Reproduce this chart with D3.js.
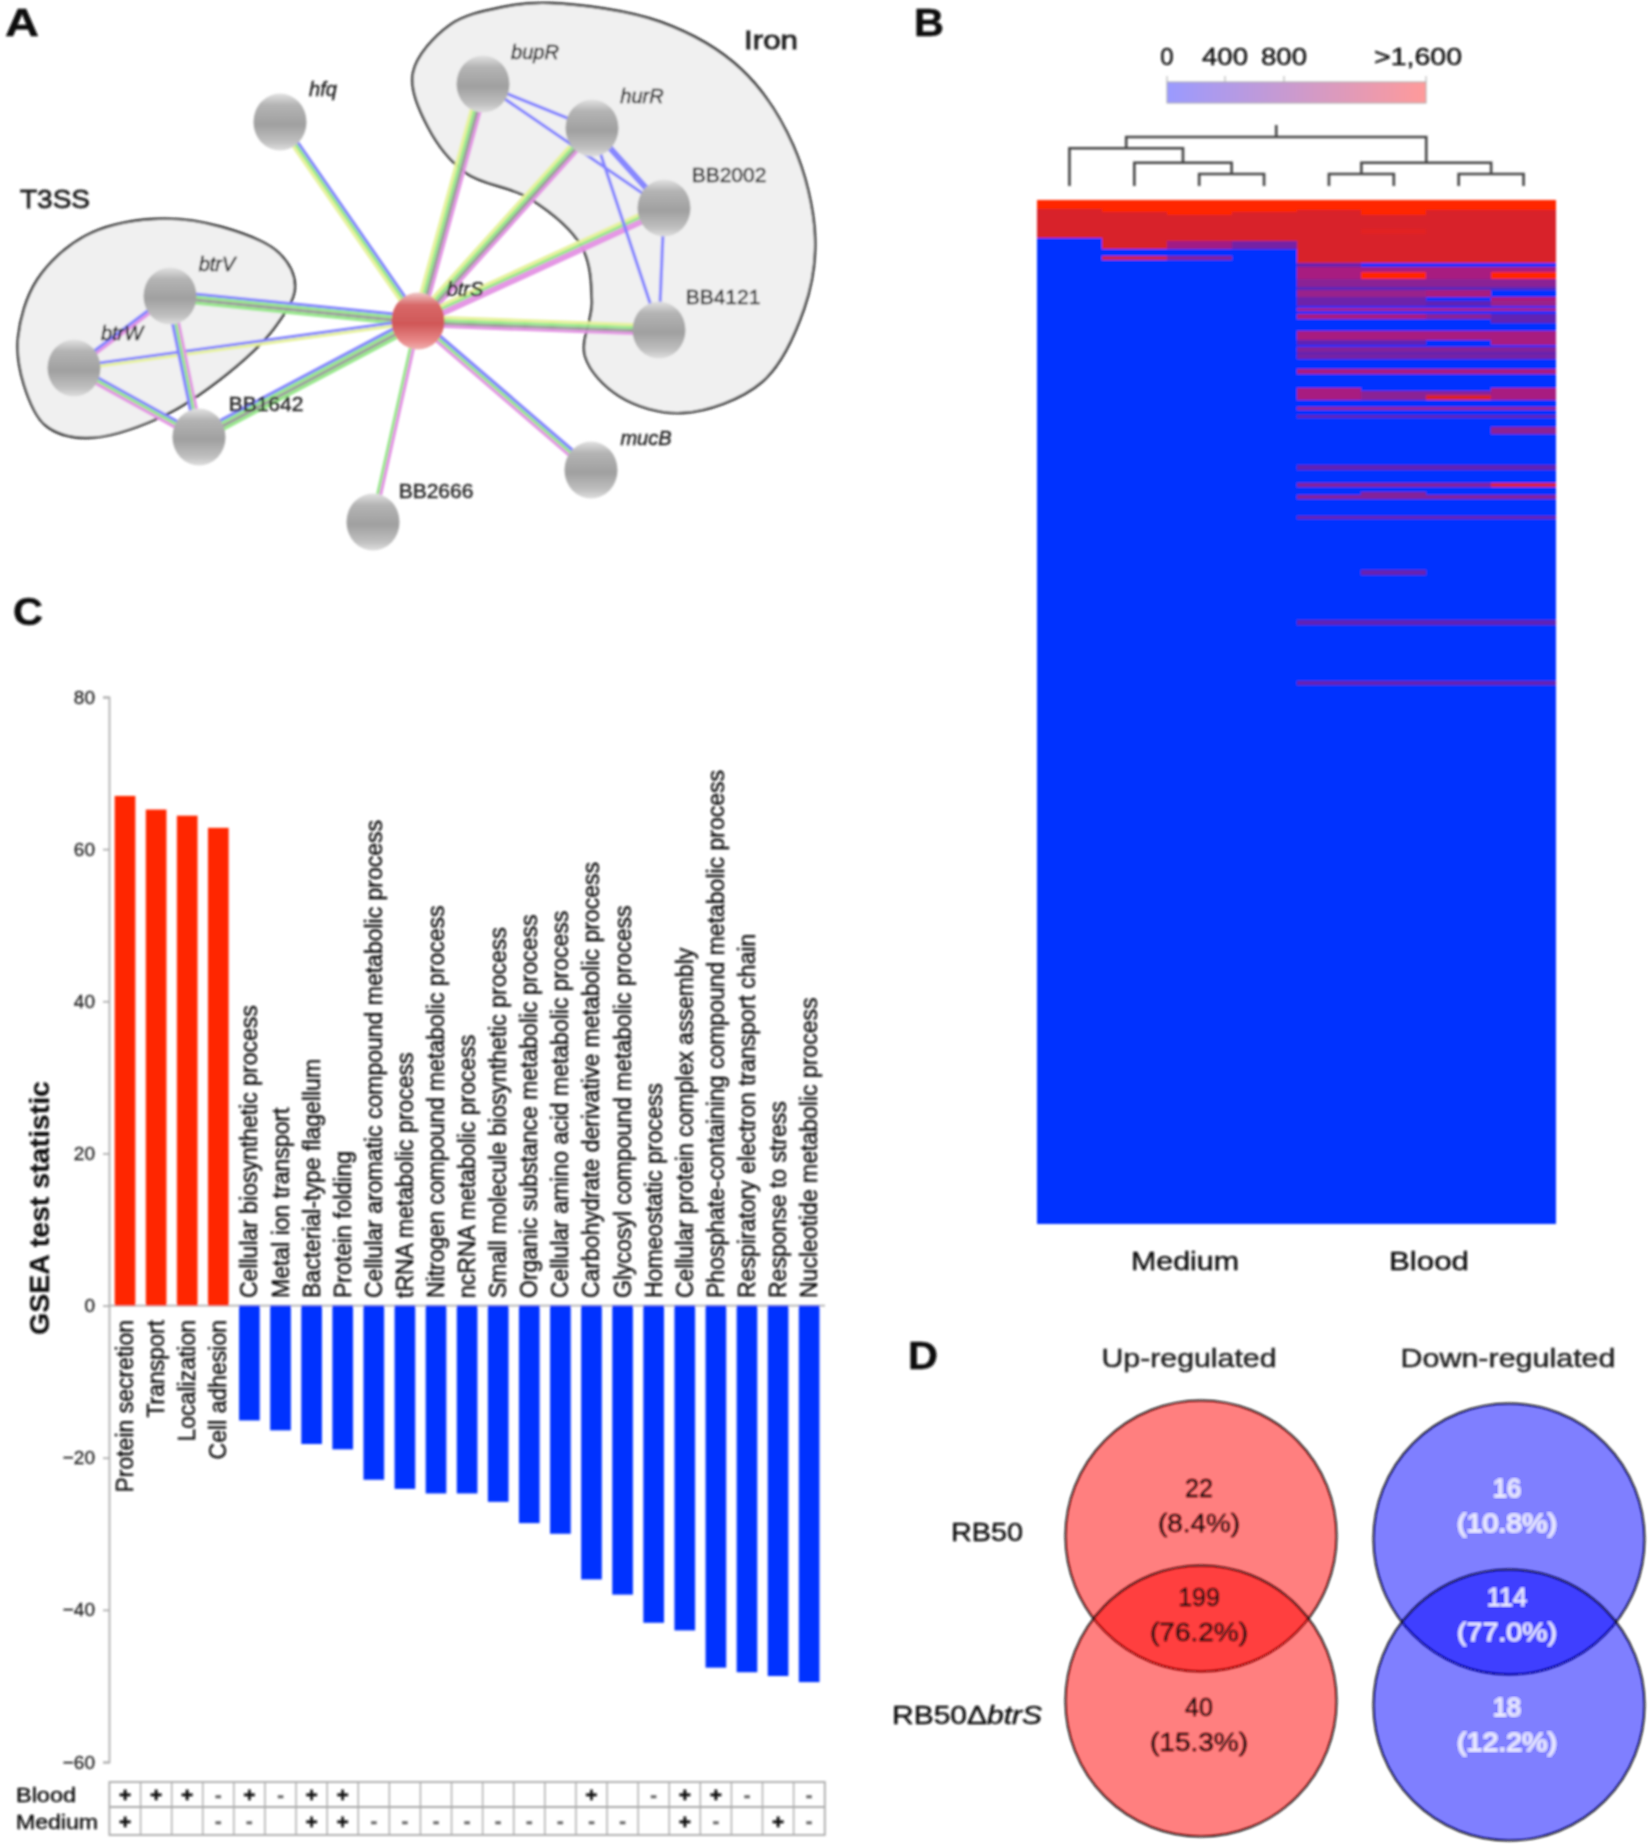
<!DOCTYPE html>
<html><head><meta charset="utf-8">
<script src="https://cdn.jsdelivr.net/npm/d3@7/dist/d3.min.js"></script>
<style>html,body{margin:0;background:#fff}svg{display:block;font-family:"Liberation Sans",Arial,sans-serif}</style>
</head><body><svg id="c" width="1650" height="1844"></svg>
<script>
// ---------- Panel C data
const categories = ["Protein secretion","Transport","Localization","Cell adhesion","Cellular biosynthetic process","Metal ion transport","Bacterial-type flagellum","Protein folding","Cellular aromatic compound metabolic process","tRNA metabolic process","Nitrogen compound metabolic process","ncRNA metabolic process","Small molecule biosynthetic process","Organic substance metabolic process","Cellular amino acid metabolic process","Carbohydrate derivative metabolic process","Glycosyl compound metabolic process","Homeostatic process","Cellular protein complex assembly","Phosphate-containing compound metabolic process","Respiratory electron transport chain","Response to stress","Nucleotide metabolic process"];
const gseaValues = [67,65.2,64.4,62.8,-15.1,-16.4,-18.2,-18.9,-22.9,-24.1,-24.7,-24.7,-25.8,-28.6,-30,-36,-38,-41.7,-42.7,-47.6,-48.2,-48.7,-49.5];
const gseaTicks = [-60,-40,-20,0,20,40,60,80];
const bloodMarks  = ["+","+","+","-","+","-","+","+","","","","","","","","+","","-","+","+","-","","-"];
const mediumMarks = ["+","","","-","-","","+","+","-","-","-","-","-","-","-","-","-","","+","-","","+","-"];
// ---------- Panel B data
const heatColumns = ["M1","M2","M3","M4","B1","B2","B3","B4"];
const heatGroups = ["Medium","Blood"];
const heatLegendTicks = [0,400,800,1600];
const heatLegendLabels = ["0","400","800",">1,600"];
const heatBreaks = [0,5,6,7,9,17,20,22,24,29,33,35,37,39,42,46,51,53,57,59,62,63,65,67,70,72,77,82,85,86,89,90,93,99,102,110,112,114,117,121,123,126,128,133,137,155,158,166,168,171,173,175,185,187,217,220,246,249,282,284,600];
const heatRows = [
[1600,1600,1600,1600,1600,1600,1600,1600],
[1400,1600,1600,1600,1600,1600,1600,1600],
[1400,1600,1600,1600,1400,1600,1400,1400],
[1400,1400,1600,1400,1400,1600,1400,1400],
[1400,1400,1400,1400,1400,1400,1400,1400],
[1400,1400,1400,1400,1400,1450,1400,1400],
[1400,1400,1400,1400,1400,1400,1400,1400],
[0,1400,1400,1400,1400,1400,1400,1400],
[0,1400,950,650,1400,1400,1400,1400],
[0,0,0,0,1400,1400,1400,1400],
[0,1300,750,0,1400,1400,1400,1400],
[0,0,0,0,1400,1400,1400,1400],
[0,0,0,0,550,0,0,0],
[0,0,0,0,1000,1000,1000,1000],
[0,0,0,0,1000,1600,1000,1600],
[0,0,0,0,800,800,800,800],
[0,0,0,0,450,450,450,450],
[0,0,0,0,900,900,1000,0],
[0,0,0,0,600,600,0,1000],
[0,0,0,0,600,600,500,900],
[0,0,0,0,0,0,0,0],
[0,0,0,0,1000,1000,1000,1000],
[0,0,0,0,0,0,0,0],
[0,0,0,0,1000,1000,800,500],
[0,0,0,0,0,0,0,500],
[0,0,0,0,0,0,0,0],
[0,0,0,0,1000,1000,1000,1000],
[0,0,0,0,500,500,0,1000],
[0,0,0,0,0,0,0,0],
[0,0,0,0,750,750,750,750],
[0,0,0,0,500,500,500,500],
[0,0,0,0,650,650,650,650],
[0,0,0,0,0,0,0,0],
[0,0,0,0,1000,1000,1000,1000],
[0,0,0,0,0,0,0,0],
[0,0,0,0,1000,0,0,1000],
[0,0,0,0,1000,800,800,1000],
[0,0,0,0,1000,800,1400,1000],
[0,0,0,0,0,0,0,0],
[0,0,0,0,900,900,900,900],
[0,0,0,0,0,0,0,0],
[0,0,0,0,500,500,500,500],
[0,0,0,0,0,0,0,0],
[0,0,0,0,0,0,0,800],
[0,0,0,0,0,0,0,0],
[0,0,0,0,500,500,500,500],
[0,0,0,0,0,0,0,0],
[0,0,0,0,750,750,750,1400],
[0,0,0,0,0,0,0,0],
[0,0,0,0,0,750,0,0],
[0,0,0,0,750,750,750,750],
[0,0,0,0,0,0,0,0],
[0,0,0,0,550,550,550,550],
[0,0,0,0,0,0,0,0],
[0,0,0,0,0,550,0,0],
[0,0,0,0,0,0,0,0],
[0,0,0,0,500,500,500,500],
[0,0,0,0,0,0,0,0],
[0,0,0,0,550,550,550,550],
[0,0,0,0,0,0,0,0]];
// dendrogram merge heights (arbitrary units)
const dendro = {h:10,c:[{h:8.9,c:[{leaf:0},{h:7.5,c:[{leaf:1},{h:6.4,c:[{leaf:2},{leaf:3}]}]}]},{h:7.5,c:[{h:6.4,c:[{leaf:4},{leaf:5}]},{h:6.4,c:[{leaf:6},{leaf:7}]}]}]};
// ---------- Panel D data
const vennTitles = ["Up-regulated","Down-regulated"];
const vennStrains = ["RB50","RB50\u0394"];
const vennCounts = [[22,199,40],[16,114,18]];
const vennPercents = [["(8.4%)","(76.2%)","(15.3%)"],["(10.8%)","(77.0%)","(12.2%)"]];
// ---------- Panel A data
const netNames = ["hfq","bupR","hurR","BB2002","BB4121","btrS","btrV","btrW","BB1642","BB2666","mucB"];
const netItalic = [1,1,1,0,0,1,1,1,0,0,1];
const netEdges = [
 ["hfq","btrS","bgy"],["bupR","btrS","pkgy"],["hurR","btrS","pkgy"],["BB2002","btrS","ppgy"],["BB4121","btrS","pkgy"],
 ["btrV","btrS","bgkg"],["btrW","btrS","by"],["BB1642","btrS","bgkg"],["BB2666","btrS","gp"],["mucB","btrS","pgb"],
 ["bupR","hurR","b"],["bupR","BB2002","b"],["hurR","BB2002","bb"],["hurR","BB4121","b"],["BB2002","BB4121","b"],
 ["btrV","btrW","pb"],["btrV","BB1642","pgb"],["btrW","BB1642","bgp"]];
const edgeColors = {b:"#8484ff",g:"#98e88c",y:"#e6f29c",p:"#e494e4",k:"#9c9c9c"};

const svg = d3.select("#c");
const defs = svg.append("defs");
defs.append("filter").attr("id","soft").attr("filterUnits","userSpaceOnUse")
  .attr("x",0).attr("y",0).attr("width",1650).attr("height",1844)
  .append("feGaussianBlur").attr("stdDeviation",1.2);
const root = svg.append("g").attr("filter","url(#soft)");
const font = "'Liberation Sans',Arial,sans-serif";
function txt(g,x,y,s,size,o={}){
  const f=o.fill||"#111";
  const t=g.append("text").attr("x",x).attr("y",y).attr("font-size",size)
   .attr("text-anchor",o.anchor||"middle").attr("dominant-baseline","central")
   .attr("fill",f).attr("stroke",f).attr("stroke-width",o.sw===undefined?.45:o.sw)
   .attr("font-weight",o.weight||"normal").attr("font-style",o.style||"normal").text(s);
  if(o.w) t.attr("textLength",o.w).attr("lengthAdjust","spacingAndGlyphs");
  return t;
}
// panel letters
[["A",22,23],["B",929,23],["C",28,612],["D",923,1356]].forEach(d=>txt(root,d[1],d[2],d[0],38,{fill:"#111",weight:"bold",w:d[0]==="A"?34:30}));

// ====== Panel A
(function(){
 const g=root.append("g");
 const nx={hfq:280,bupR:483,hurR:592,BB2002:664,BB4121:659,btrS:418,btrV:170,btrW:74,BB1642:199,BB2666:373,mucB:591};
 const ny={hfq:122,bupR:84,hurR:128,BB2002:208,BB4121:330,btrS:321,btrV:296,btrW:368,BB1642:437,BB2666:522,mucB:470};
 const lx={hfq:323,bupR:535,hurR:642,BB2002:729,BB4121:723,btrS:465,btrV:217,btrW:122,BB1642:266,BB2666:436,mucB:646};
 const ly={hfq:89,bupR:52,hurR:96,BB2002:174,BB4121:296,btrS:289,btrV:264,btrW:333,BB1642:403,BB2666:490,mucB:438};
 const closed=d3.line().curve(d3.curveCatmullRomClosed.alpha(0.5));
 const iron=[[550,3],[661,22],[741,69],[793,145],[815,236],[804,309],[762,382],[682,413],[619,396],[585,356],[592,302],[582,247],[529,198],[466,173],[428,127],[413,73],[450,25],[503,7]];
 const t3ss=[[153,219],[222,227],[280,254],[295,287],[275,327],[227,374],[159,418],[85,438],[45,425],[24,385],[18,338],[37,280],[85,236]];
 [iron,t3ss].forEach(p=>g.append("path").attr("d",closed(p)).attr("fill","#f0f0f0").attr("stroke","#222").attr("stroke-width",2.4));
 netEdges.forEach(e=>{
  const [a,b,ch]=e; const dx=nx[b]-nx[a],dy=ny[b]-ny[a],L=Math.hypot(dx,dy),ux=-dy/L,uy=dx/L;
  const n=ch.length, s=3;
  ch.split("").forEach((c,i)=>{const o=(i-(n-1)/2)*s;
   g.append("line").attr("x1",nx[a]+ux*o).attr("y1",ny[a]+uy*o).attr("x2",nx[b]+ux*o).attr("y2",ny[b]+uy*o)
    .attr("stroke",edgeColors[c]).attr("stroke-width",3.2);});
 });
 const gg=defs.append("linearGradient").attr("id","gray").attr("x1",0).attr("y1",0).attr("x2",0).attr("y2",1);
 [[0,"#e2e2e2"],[.2,"#b4b4b4"],[.55,"#a0a0a0"],[.85,"#c0c0c0"],[1,"#dedede"]].forEach(s=>gg.append("stop").attr("offset",s[0]).attr("stop-color",s[1]));
 const gr=defs.append("linearGradient").attr("id","redn").attr("x1",0).attr("y1",0).attr("x2",0).attr("y2",1);
 [[0,"#f0c8c8"],[.22,"#d86868"],[.55,"#d05858"],[.85,"#e88888"],[1,"#f0b0b0"]].forEach(s=>gr.append("stop").attr("offset",s[0]).attr("stop-color",s[1]));
 netNames.forEach((n,i)=>{
  g.append("ellipse").attr("cx",nx[n]).attr("cy",ny[n]).attr("rx",26.5).attr("ry",28.5).attr("fill",n==="btrS"?"url(#redn)":"url(#gray)");
  txt(g,lx[n],ly[n],n,netItalic[i]?20:21,{style:netItalic[i]?"italic":"normal",fill:"#222"});
 });
 txt(g,55,199,"T3SS",26,{w:70,fill:"#222",sw:.8});
 txt(g,771,40,"Iron",26,{w:54,fill:"#222",sw:.8});
})();

// ====== Panel B
(function(){
 const g=root.append("g");
 const x=d3.scaleBand().domain(heatColumns).range([1037,1556]);
 const y=d3.scaleLinear().domain([0,600]).range([200,1224]);
 const color=d3.scaleLinear().domain([0,500,800,1000,1400,1600]).range(["#0433ff","#6024b4","#8a2095","#a81f80","#d8202c","#ff2600"]).clamp(true);
 heatRows.forEach((row,i)=>row.forEach((v,j)=>{
  g.append("rect").attr("x",x(heatColumns[j])).attr("width",x.bandwidth()).attr("y",y(heatBreaks[i])).attr("height",y(heatBreaks[i+1])-y(heatBreaks[i]))
   .attr("fill",color(v)).attr("shape-rendering","crispEdges");
 }));
 // legend
 const lg=d3.scaleLinear().domain(heatLegendTicks).range([1167,1225,1284,1426]);
 const grad=defs.append("linearGradient").attr("id","lgd");
 grad.append("stop").attr("offset",0).attr("stop-color","#9a9aff");
 grad.append("stop").attr("offset",1).attr("stop-color","#ff9a9a");
 g.append("rect").attr("x",lg(0)).attr("y",82).attr("width",lg(1600)-lg(0)).attr("height",21).attr("fill","url(#lgd)").attr("stroke","#aaa").attr("stroke-width",1);
 heatLegendTicks.forEach((t,i)=>{
  g.append("line").attr("x1",lg(t)).attr("x2",lg(t)).attr("y1",76).attr("y2",82).attr("stroke","#aaa");
  txt(g,i===3?1418:lg(t),56,heatLegendLabels[i],24,{w:[null,46,46,88][i]});
 });
 // dendrogram
 const h=d3.scaleLinear().domain([6.4,10]).range([174,137]);
 const leafY=186;
 function walk(n){
  if(n.leaf!==undefined) return {x:x(heatColumns[n.leaf])+x.bandwidth()/2,y:leafY};
  const a=walk(n.c[0]),b=walk(n.c[1]),yy=h(n.h);
  g.append("path").attr("d",`M${a.x},${a.y}V${yy}H${b.x}V${b.y}`).attr("fill","none").attr("stroke","#444").attr("stroke-width",2.6);
  return {x:(a.x+b.x)/2,y:yy};
 }
 const r=walk(dendro);
 g.append("line").attr("x1",r.x).attr("x2",r.x).attr("y1",r.y).attr("y2",125).attr("stroke","#444").attr("stroke-width",2.6);
 txt(g,1185,1261,heatGroups[0],26,{w:108});
 txt(g,1429,1261,heatGroups[1],26,{w:80});
})();

// ====== Panel C
(function(){
 const g=root.append("g");
 const x=d3.scaleBand().domain(categories).range([109.4,824.8]).paddingInner(.335).paddingOuter(.17);
 const y=d3.scaleLinear().domain([-60,80]).range([1762,697]);
 const ax=g.append("g").attr("transform","translate(109,0)").call(d3.axisLeft(y).tickValues(gseaTicks).tickSize(6).tickFormat(d3.format("d")));
 ax.selectAll("path,line").attr("stroke","#b0b0b0").attr("stroke-width",1.8);
 ax.selectAll("text").attr("font-size",19).attr("font-family",font).attr("fill","#222").attr("stroke","#222").attr("stroke-width",.3).attr("x",-14);
 g.append("line").attr("x1",109).attr("x2",825).attr("y1",y(0)).attr("y2",y(0)).attr("stroke","#b0b0b0").attr("stroke-width",1.8);
 g.selectAll("rect.b").data(categories).join("rect").attr("class","b")
  .attr("x",d=>x(d)).attr("width",x.bandwidth())
  .attr("y",(d,i)=>y(Math.max(0,gseaValues[i]))).attr("height",(d,i)=>Math.abs(y(gseaValues[i])-y(0)))
  .attr("fill",(d,i)=>gseaValues[i]>0?"#ff2600":"#0433ff");
 categories.forEach((c,i)=>{
  const cx=x(c)+x.bandwidth()/2, up=gseaValues[i]<0;
  const yy=up?1298:1320;
  g.append("text").attr("transform",`translate(${cx},${yy}) rotate(-90)`).attr("font-size",23)
   .attr("text-anchor",up?"start":"end").attr("dominant-baseline","central").attr("fill","#111").attr("stroke","#111").attr("stroke-width",.45).text(c);
 });
 txt(g,0,0,"GSEA test statistic",28.5,{weight:"bold",sw:.2}).attr("transform","translate(39,1208) rotate(-90)");
 // table
 const ty=[1782,1807,1835];
 const tg=g.append("g");
 tg.append("rect").attr("x",109.4).attr("y",ty[0]).attr("width",715.4).attr("height",ty[2]-ty[0]).attr("fill","none").attr("stroke","#aaa").attr("stroke-width",1.8);
 tg.append("line").attr("x1",109.4).attr("x2",824.8).attr("y1",ty[1]).attr("y2",ty[1]).attr("stroke","#aaa").attr("stroke-width",1.8);
 const step=x.step();
 categories.forEach((c,i)=>{
  const cx=x(c)+x.bandwidth()/2;
  if(i) tg.append("line").attr("x1",cx-step/2).attr("x2",cx-step/2).attr("y1",ty[0]).attr("y2",ty[2]).attr("stroke","#aaa").attr("stroke-width",1.4);
  [[bloodMarks[i],(ty[0]+ty[1])/2],[mediumMarks[i],(ty[1]+ty[2])/2]].forEach(m=>{
   if(m[0]) txt(tg,cx,m[1],m[0],m[0]==="+"?21:20,{weight:"bold",fill:m[0]==="+"?"#111":"#666"});
  });
 });
 txt(g,16,1795,"Blood",20,{anchor:"start",w:60});
 txt(g,16,1822,"Medium",20,{anchor:"start",w:82});
})();

// ====== Panel D
(function(){
 const g=root.append("g");
 const cx=[1201,1509], ct=[1536,1539], cb=[1701,1705], r=135.5;
 vennTitles.forEach((t,k)=>{
  const fill=k?"#0000ff":"#ff0000", tf=k?"#f4f4ff":"#111";
  [ct[k],cb[k]].forEach(cy=>g.append("circle").attr("cx",cx[k]).attr("cy",cy).attr("r",r).attr("fill",fill).attr("fill-opacity",.5).attr("stroke","#111").attr("stroke-width",2));
  txt(g,k?1508:1189,1358,t,25,{w:k?215:175,fill:"#222"});
  [[1488,1523],[1597,1632],[1707,1742]].forEach((ys,j)=>{
   txt(g,cx[k]-2,ys[0],vennCounts[k][j],25,{fill:tf,sw:k?.2:.45});
   txt(g,cx[k]-2,ys[1],vennPercents[k][j],25,{fill:tf,sw:k?.2:.45,w:k?100:(j?98:82)});
  });
 });
 txt(g,987,1532,vennStrains[0],25,{w:72});
 const t=g.append("text").attr("x",892).attr("y",1715).attr("font-size",25).attr("dominant-baseline","central").attr("fill","#111").attr("stroke","#111").attr("stroke-width",.45)
   .attr("textLength",150).attr("lengthAdjust","spacingAndGlyphs");
 t.append("tspan").text(vennStrains[1]);
 t.append("tspan").attr("font-style","italic").text("btrS");
})();
</script></body></html>
